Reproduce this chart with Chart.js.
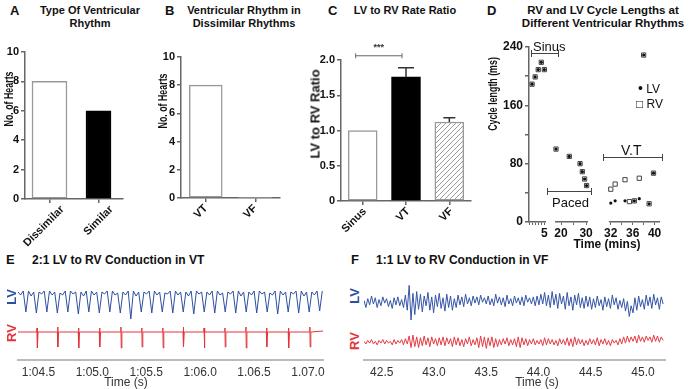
<!DOCTYPE html>
<html>
<head>
<meta charset="utf-8">
<script src="https://cdn.jsdelivr.net/npm/chart.js@4.4.1/dist/chart.umd.min.js"></script>
<style>
  body { margin: 0; width: 689px; height: 389px; overflow: hidden; position: relative; background: #fff;
         font-family: 'Liberation Sans', Arial, sans-serif; color: #111; }
  canvas { position: absolute; }
  .txt { position: absolute; white-space: nowrap; }
  .b { font-weight: bold; }
  .c { text-align: center; }
  .rot { position: absolute; white-space: nowrap; font-weight: bold; }
  .ln { position: absolute; background: #444; }
</style>
</head>
<body>
<script>
// A - type of ventricular rhythm
const rhythmTypes = ['Dissimilar', 'Similar'];
const rhythmTypeHearts = [8, 6];

// B - ventricular rhythm in dissimilar rhythms
const dissimilarRhythms = ['VT', 'VF'];
const dissimilarHearts = [8, 0];

// C - LV to RV rate ratio (mean, error)
const ratioGroups = ['Sinus', 'VT', 'VF'];
const ratioMeans = [1.0, 1.76, 1.12];
const ratioErrors = [0, 0.13, 0.06];

// D - cycle lengths (ms) vs time (mins), three pieces of a broken axis
const sinusTime = [1, 2, 3, 4, 5];
const sinusLV = [189, 199, 209, 219, 209];
const sinusRV = [189, 199, 209, 219, 209];
const pacedTime = [18, 23.3, 27.6, 28.5, 29.4, 30.2];
const pacedLV = [100, 90, 80, 69, 59, 50];
const pacedRV = [100, 90, 80, 69, 59, 50];
const vtTime = [32, 32.8, 34.6, 35.4, 36.3, 37.2, 38, 39, 39.8];
const vtLV = [26, 29, 29, null, 29, 32, 229, 25, 67];
const vtRV = [45, 52, 58, 28, 29, 60, 229, 25, 67];
const sinusTicks = [0, 1, 2, 3, 4, 5];
const sinusTickLabels = [5];
const pacedTicks = [20, 25, 30];
const pacedTickLabels = [20, 30];
const vtTicks = [32, 34, 36, 38, 40];
const vtTickLabels = [32, 36, 40];

// E - 2:1 conduction in VT (LV sampled every lvStepE s from lvStartE)
const lvStartE = 64.31;
const lvStepE = 0.02434;
const lvE = [
  8,5,9,-12, 9,4,8,-13, 8,6,9,-12, 9,5,8,-13, 7,5,9,-12, 9,6,8,-14, 8,4,9,-12, 9,5,8,-13,
  8,6,9,-12, 9,5,7,-13, 8,5,9,-19, 9,4,8,-12, 8,6,9,-13, 9,5,8,-12, 7,6,9,-13, 9,5,8,-12,
  8,4,9,-14, 9,6,8,-12, 8,5,9,-13, 9,5,7,-12, 8,6,9,-13, 9,4,8,-12, 8,5,9,-13, 9,6,8,-12,
  7,5,9,-14, 9,5,8,-12, 8,6,9,-13, 9,4,8,-12, 8,5,9,-11, 9
];
const rvTimeE = [
  64.310,
  64.484, 64.487, 64.490, 64.496, 64.675, 64.678, 64.681, 64.687,
  64.869, 64.872, 64.875, 64.881, 65.064, 65.067, 65.070, 65.076,
  65.262, 65.265, 65.268, 65.274, 65.456, 65.459, 65.462, 65.468,
  65.651, 65.654, 65.657, 65.663, 65.841, 65.844, 65.847, 65.853,
  66.033, 66.036, 66.039, 66.045, 66.227, 66.230, 66.233, 66.239,
  66.422, 66.425, 66.428, 66.434, 66.614, 66.617, 66.620, 66.626,
  66.817, 66.820, 66.823, 66.829, 67.015, 67.018, 67.021, 67.027,
  67.140
];
const rvValE = [
  0,
  0,4,-16,0, 0,5,-15,0, 0,4,-16,0, 0,4,-15,0, 0,5,-16,0, 0,4,-15,0, 0,4,-16,0,
  0,5,-15,0, 0,4,-16,0, 0,4,-15,0, 0,5,-16,0, 0,4,-15,0, 0,4,-16,0, 0,5,-15,0,
  1
];
const timeTicksE = [64.5, 65.0, 65.5, 66.0, 66.5, 67.0];
const timeLabelsE = ['1:04.5', '1:05.0', '1:05.5', '1:06.0', '1.06.5', '1.07.0'];

// F - 1:1 conduction in VF (both traces sampled every stepF s from startF)
const startF = 42.33;
const stepF = 0.018;
const lvF = [
  2,-6,4,-3,7,-2,5,-6,3,-4,6,-1,4,-5,2,-7,5,-3,6,-4,
  3,-6,8,-9,19,-20,10,-14,12,-8,9,-11,7,-4,11,-9,6,-12,8,-5,
  10,-7,5,-10,9,-6,7,-9,4,-6,8,-3,6,-5,9,-2,5,-4,7,-1,
  6,-3,8,0,5,-2,7,-3,4,-4,9,-1,6,-3,5,-5,8,-2,4,-4,
  7,-1,5,-3,6,-4,8,0,5,-2,6,-4,7,-3,9,-2,11,-4,8,-6,
  12,-3,9,-7,10,-2,7,-8,11,-4,6,-9,8,-3,10,-6,5,-7,7,-5,
  6,-8,4,-6,7,-4,3,-9,6,-5,4,-7,8,-3,5,-8,2,-6,4,-10,
  1,-16,-4,-12,5,-9,7,-5,3,-8,8,-4,6,-7,9,-3,5,-8,6,-2
];
const rvF = [
  1,-2,2,-1,3,-2,1,-3,2,-1,3,-2,2,-1,1,-3,3,-2,2,-1,
  3,-3,4,-2,7,-6,8,-5,6,-6,5,-4,7,-3,5,-5,6,-2,4,-4,
  5,-3,6,-4,5,-2,4,-5,6,-3,5,-4,3,-5,4,-2,6,-4,3,-3,
  5,-6,7,-5,6,-7,5,-4,6,-6,4,-5,3,-3,4,-2,5,-4,3,-3,
  4,-5,6,-6,5,-3,4,-4,3,-2,4,-3,2,-2,3,-4,5,-3,4,-2,
  3,-3,2,-4,4,-2,3,-3,5,-4,4,-5,6,-3,4,-2,3,-4,2,-3,
  4,-2,3,-3,5,-4,3,-2,4,-3,2,-4,3,-1,2,-3,4,-2,6,-1,
  7,0,6,1,7,-1,8,1,6,0,7,2,6,0,8,1,7,0,6,2
];
const timeTicksF = [42.5, 43.0, 43.5, 44.0, 44.5, 45.0];
const timeLabelsF = ['42.5', '43.0', '43.5', '44.0', '44.5', '45.0'];

Chart.defaults.font.family = "'Liberation Sans', Arial, sans-serif";
Chart.defaults.color = '#111';
Chart.defaults.animation = false;
Chart.defaults.plugins.legend.display = false;
Chart.defaults.plugins.tooltip.enabled = false;

function makeCanvas(left, top, w, h) {
  const c = document.createElement('canvas');
  c.width = w; c.height = h;
  c.style.left = left + 'px'; c.style.top = top + 'px';
  c.style.width = w + 'px'; c.style.height = h + 'px';
  document.body.appendChild(c);
  return c.getContext('2d');
}

function addText(html, left, top, cls, style) {
  const d = document.createElement('div');
  d.className = 'txt ' + (cls || '');
  d.innerHTML = html;
  d.style.left = left + 'px'; d.style.top = top + 'px';
  Object.assign(d.style, style || {});
  document.body.appendChild(d);
  return d;
}

// vertical (rotated) text centred on (cx, cy); squeeze < 1 narrows the glyphs
function addVertical(text, cx, cy, size, color, squeeze) {
  const d = document.createElement('div');
  d.className = 'rot';
  d.textContent = text;
  Object.assign(d.style, {
    left: cx + 'px', top: cy + 'px', fontSize: size + 'px', color: color || '#111',
    transform: 'translate(-50%, -50%) rotate(-90deg) scaleX(' + (squeeze || 1) + ')'
  });
  document.body.appendChild(d);
}

function addLine(left, top, w, h) {
  const d = document.createElement('div');
  d.className = 'ln';
  Object.assign(d.style, { left: left + 'px', top: top + 'px', width: w + 'px', height: h + 'px' });
  document.body.appendChild(d);
}

function bracket(x1, x2, y) {
  addLine(x1, y, x2 - x1, 1);
  addLine(x1, y - 3, 1, 7);
  addLine(x2 - 1, y - 3, 1, 7);
}

const fixW = w => s => { s.width = w; };
const fixH = h => s => { s.height = h; };
const axisColor = '#666';
const boldTick = { size: 11, weight: 'bold' };

function yAxis(min, max, step, width, cb) {
  return {
    min, max, afterFit: fixW(width),
    border: { color: axisColor, width: 1.5 },
    grid: { drawOnChartArea: false, color: axisColor, lineWidth: 1.5, tickLength: 4 },
    ticks: { stepSize: step, font: boldTick, color: '#111', padding: 2, callback: cb }
  };
}

function xCat(height, shift) {
  return {
    afterFit: fixH(height),
    border: { color: axisColor, width: 1.5 },
    grid: { drawOnChartArea: false, offset: false, color: axisColor, lineWidth: 1.5, tickLength: 4 },
    ticks: { minRotation: 45, maxRotation: 45, font: boldTick, color: '#111', padding: 0, labelOffset: shift || 0 }
  };
}

// ---------- A ----------
new Chart(makeCanvas(0, 42, 128, 205), {
  type: 'bar',
  data: {
    labels: rhythmTypes,
    datasets: [
      { data: rhythmTypeHearts.map((v, i) => i === 0 ? v : null), backgroundColor: '#fff',
        borderColor: '#999', borderWidth: 1.5, borderSkipped: false, barThickness: 35, grouped: false },
      { data: rhythmTypeHearts.map((v, i) => i === 1 ? v : null), backgroundColor: '#000',
        borderColor: '#000', borderWidth: 1.5, borderSkipped: false, barThickness: 25, grouped: false }
    ]
  },
  options: {
    responsive: false, devicePixelRatio: 1,
    layout: { padding: { top: 10, right: 5, left: 0, bottom: 0 } },
    scales: { x: xCat(48, 13), y: yAxis(0, 10, 2, 25) }
  }
});

// ---------- B ----------
new Chart(makeCanvas(155, 47, 130, 199), {
  type: 'bar',
  data: {
    labels: dissimilarRhythms,
    datasets: [{ data: dissimilarHearts, backgroundColor: '#fff', borderColor: '#999',
      borderWidth: [1.5, 0], borderSkipped: false, barThickness: 33 }]
  },
  options: {
    responsive: false, devicePixelRatio: 1,
    layout: { padding: { top: 10, right: 5, left: 0, bottom: 0 } },
    scales: { x: xCat(48), y: yAxis(0, 10, 2, 26) }
  }
});

// ---------- C ----------
function hatchPattern() {
  const c = document.createElement('canvas');
  c.width = 5; c.height = 5;
  const g = c.getContext('2d');
  g.fillStyle = '#fff'; g.fillRect(0, 0, 5, 5);
  g.strokeStyle = '#9a9a9a'; g.lineWidth = 1;
  g.beginPath();
  g.moveTo(0, 5); g.lineTo(5, 0);
  g.moveTo(-1, 1); g.lineTo(1, -1);
  g.moveTo(4, 6); g.lineTo(6, 4);
  g.stroke();
  return g.createPattern(c, 'repeat');
}

const ratioExtras = {
  id: 'ratioExtras',
  afterDatasetsDraw(chart) {
    const { ctx, scales: { x, y } } = chart;
    ctx.save();
    ctx.strokeStyle = '#333'; ctx.lineWidth = 1.5;
    ratioErrors.forEach((e, i) => {
      if (!e) return;
      const cx = x.getPixelForValue(i);
      const y0 = y.getPixelForValue(ratioMeans[i]);
      const y1 = y.getPixelForValue(ratioMeans[i] + e);
      const half = i === 1 ? 8 : 6;
      ctx.beginPath();
      ctx.moveTo(cx, y0); ctx.lineTo(cx, y1);
      ctx.moveTo(cx - half, y1); ctx.lineTo(cx + half, y1);
      ctx.stroke();
    });
    // significance bracket Sinus vs VT
    const xa = x.getPixelForValue(0) - 7, xb = x.getPixelForValue(1) - 4;
    const ys = y.getPixelForValue(2.06);
    ctx.strokeStyle = '#666'; ctx.lineWidth = 1;
    ctx.beginPath();
    ctx.moveTo(xa, ys); ctx.lineTo(xb, ys);
    ctx.moveTo(xa, ys - 2.5); ctx.lineTo(xa, ys + 2.5);
    ctx.moveTo(xb, ys - 2.5); ctx.lineTo(xb, ys + 2.5);
    ctx.stroke();
    ctx.fillStyle = '#333';
    ctx.font = "bold 9px 'Liberation Sans', Arial, sans-serif";
    ctx.textAlign = 'center'; ctx.textBaseline = 'bottom';
    ctx.fillText('***', (xa + xb) / 2, ys - 4);
    ctx.restore();
  }
};

new Chart(makeCanvas(298, 36, 178, 213), {
  type: 'bar',
  data: {
    labels: ratioGroups,
    datasets: [{
      data: ratioMeans,
      backgroundColor: ['#fff', '#000', hatchPattern()],
      borderColor: ['#999', '#000', '#999'],
      borderWidth: 1.5, borderSkipped: false, barThickness: 29
    }]
  },
  options: {
    responsive: false, devicePixelRatio: 1,
    layout: { padding: { top: 24, right: 5, left: 0, bottom: 0 } },
    scales: {
      x: xCat(48, 2),
      y: yAxis(0, 2, 0.5, 43, v => v === 0 ? '0' : v.toFixed(1))
    }
  },
  plugins: [ratioExtras]
});

// ---------- D (broken time axis: three pieces) ----------
function cycleChart(ctx, times, lv, rv, xmin, xmax, tickVals, shown, withY, yWidth) {
  const y = yAxis(0, 240, 40, yWidth || 0, v => v % 80 === 0 ? String(v) : '');
  y.display = withY;
  y.ticks.font = { size: 12, weight: 'bold' };
  return new Chart(ctx, {
    type: 'scatter',
    data: {
      datasets: [
        { data: times.map((t, i) => ({ x: t, y: lv[i] })), pointStyle: 'circle', pointRadius: 1.6,
          backgroundColor: '#111', borderWidth: 0, clip: false },
        { data: times.map((t, i) => ({ x: t, y: rv[i] })), pointStyle: 'rect', pointRadius: 3,
          backgroundColor: 'rgba(255,255,255,0)', borderColor: '#444', borderWidth: 1, clip: false }
      ]
    },
    options: {
      responsive: false, devicePixelRatio: 1,
      layout: { padding: { top: 10, right: 2, left: withY ? 0 : 2, bottom: 0 } },
      scales: {
        x: {
          type: 'linear', min: xmin, max: xmax, afterFit: fixH(16),
          afterBuildTicks: a => { a.ticks = tickVals.map(v => ({ value: v })); },
          border: { color: axisColor, width: 1.5 },
          grid: { drawOnChartArea: false, color: axisColor, lineWidth: 1, tickLength: 3 },
          ticks: { font: { size: 12, weight: 'bold' }, color: '#111', padding: 1,
                   autoSkip: false, maxRotation: 0, callback: v => shown.includes(v) ? String(v) : '' }
        },
        y
      }
    }
  });
}
cycleChart(makeCanvas(482, 37, 68, 201), sinusTime, sinusLV, sinusRV, 0, 5.2, sinusTicks, sinusTickLabels, true, 47);
cycleChart(makeCanvas(551, 37, 43, 201), pacedTime, pacedLV, pacedRV, 18, 30.6, pacedTicks, pacedTickLabels, false);
cycleChart(makeCanvas(603, 37, 61, 201), vtTime, vtLV, vtRV, 31.84, 40.8, vtTicks, vtTickLabels, false);

// ---------- E & F traces ----------
function traceChart(ctx, lvPts, rvPts, xmin, xmax, ticks, labels, lvRange, rvRange, lvColor, rvColor) {
  return new Chart(ctx, {
    type: 'line',
    data: {
      datasets: [
        { data: lvPts, yAxisID: 'yLV', borderColor: lvColor, borderWidth: 1, pointRadius: 0, tension: 0 },
        { data: rvPts, yAxisID: 'yRV', borderColor: rvColor, borderWidth: 1, pointRadius: 0, tension: 0 }
      ]
    },
    options: {
      responsive: false, devicePixelRatio: 1,
      layout: { padding: { top: 10, right: 14, left: 2, bottom: 0 } },
      scales: {
        x: {
          type: 'linear', min: xmin, max: xmax, afterFit: fixH(29),
          afterBuildTicks: a => { a.ticks = ticks.map(v => ({ value: v })); },
          border: { color: '#bbb', width: 2 },
          grid: { drawOnChartArea: false, drawTicks: false },
          ticks: { callback: (v, i) => labels[i], font: { size: 12 }, color: '#333', padding: 5, maxRotation: 0 }
        },
        yLV: { display: false, min: lvRange[0], max: lvRange[1] },
        yRV: { display: false, min: rvRange[0], max: rvRange[1] }
      }
    }
  });
}

traceChart(makeCanvas(16, 270, 321, 119),
  lvE.map((v, i) => ({ x: lvStartE + i * lvStepE, y: v })),
  rvTimeE.map((t, i) => ({ x: t, y: rvValE[i] })),
  64.31, 67.14, timeTicksE, timeLabelsE, [-60, 20], [-28, 52], '#2d4f9f', '#e2363c');

traceChart(makeCanvas(362, 270, 317, 119),
  lvF.map((v, i) => ({ x: startF + i * stepF, y: v })),
  rvF.map((v, i) => ({ x: startF + i * stepF, y: v })),
  42.33, 45.21, timeTicksF, timeLabelsF, [-65, 25], [-20, 70], '#3556a6', '#e23c44');

// ---------- panel letters, titles, axis titles, annotations ----------
const titleStyle = { fontSize: '11px', lineHeight: '13px' };
addText('A', 10, 3, 'b', { fontSize: '13px' });
addText('Type Of Ventricular<br>Rhythm', 30, 4, 'b c', Object.assign({ width: '120px' }, titleStyle));
addText('B', 165, 3, 'b', { fontSize: '13px' });
addText('Ventricular Rhythm in<br>Dissimilar Rhythms', 174, 4, 'b c', Object.assign({ width: '140px' }, titleStyle));
addText('C', 328, 3, 'b', { fontSize: '13px' });
addText('LV to RV Rate Ratio', 345, 4, 'b c', Object.assign({ width: '120px' }, titleStyle));
addText('D', 487, 3, 'b', { fontSize: '13px' });
addText('RV and LV Cycle Lengths at<br>Different Ventricular Rhythms', 513, 4, 'b c',
  { width: '180px', fontSize: '11.5px', lineHeight: '13px' });

addVertical('No. of Hearts', 8, 99, 13, '#111', 0.68);
addVertical('No. of Hearts', 162, 101, 13, '#111', 0.68);
addVertical('LV to RV Ratio', 315, 114, 13, '#111', 1);
addVertical('Cycle length  (ms)', 492, 94, 13, '#111', 0.68);

addText('Time (mins)', 567, 237, 'b c', { fontSize: '12px', width: '80px' });
bracket(531, 559, 53);
addText('Sinus', 533, 39, '', { fontSize: '13px' });
bracket(547, 592, 191);
addText('Paced', 552, 195, '', { fontSize: '13px' });
bracket(603, 663, 157);
addText('V.T', 621, 142, '', { fontSize: '14px' });
addText('<span style="font-size:14px">&#8226;</span> LV', 638, 80, '', { fontSize: '12px' });
addText('&#9633; RV', 636, 97, '', { fontSize: '12px' });

addText('E', 6, 252, 'b', { fontSize: '13px' });
addText('2:1 LV to RV Conduction in VT', 32, 253, 'b', { fontSize: '12px' });
addText('F', 351, 252, 'b', { fontSize: '13px' });
addText('1:1 LV to RV Conduction in VF', 376, 253, 'b', { fontSize: '12px' });
addText('Time (s)', 86, 375, 'c', { fontSize: '12px', width: '80px', color: '#333' });
addText('Time (s)', 497, 375, 'c', { fontSize: '12px', width: '80px', color: '#333' });

addVertical('LV', 11, 297, 13, '#2d4f9f', 1);
addVertical('RV', 11, 333, 13, '#e2363c', 1);
addVertical('LV', 354, 296, 13, '#2d4f9f', 1);
addVertical('RV', 354, 341, 13, '#e2363c', 1);
</script>
</body>
</html>
